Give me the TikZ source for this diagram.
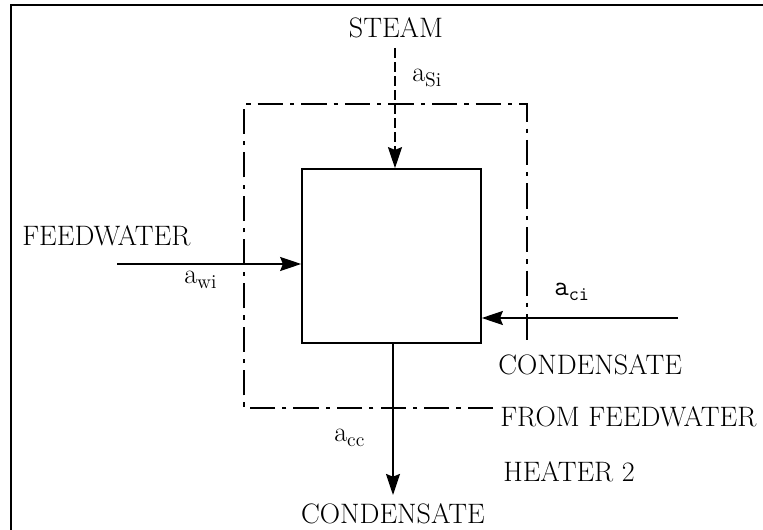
\documentclass[tikz,border=0pt]{standalone}
\usepackage{amsmath,amssymb}
\usepackage{fontspec}
\usepackage{tikz}
\usetikzlibrary{arrows.meta,positioning,calc}
\usepackage{xcolor}

\begin{document}
\begin{tikzpicture}[x=0.025cm,y=-0.025cm,
    flow/.style={line width=1.1pt,-{Stealth[length=15pt,width=10pt,inset=2pt]}},
    cv/.style={line width=1.1pt,dash pattern=on 18pt off 5pt on 3pt off 5pt},
    lbl/.style={font=\fontsize{20}{24}\selectfont,inner sep=0pt}]
  \useasboundingbox (0,0) rectangle (763,530);

  % 枠
  \draw[line width=2pt] (11,530) -- (11,5) -- (763,5);

  % 加熱器
  \node[draw,line width=1.1pt,minimum width=4.475cm,minimum height=4.35cm,inner sep=0pt] (heater) at (391.5,256) {};

  % 検査体積
  \coordinate (cvend) at (493,408);
  \draw[cv] (cvend) -- (244,408) -- (244,104) -- (527,104) -- (527,340);

  % 蒸気
  \coordinate (steamin) at (395,48);
  \draw[flow,dash pattern=on 7pt off 3pt] (steamin) -- (steamin |- heater.north);
  \node[lbl] (steam) at (396,28) {STEAM};
  \node[lbl,anchor=west] (asi) at (412,78) {a$_{\mathrm{Si}}$};

  % 給水
  \coordinate (fwin) at (117,264);
  \draw[flow] (fwin) -- (fwin -| heater.west);
  \node[lbl,anchor=west] (feed) at (22,236) {FEEDWATER};
  \node[lbl,anchor=west] (awi) at (184,280) {a$_{\mathrm{wi}}$};

  % ドレン (入口)
  \coordinate (ciin) at (678,318);
  \draw[flow] (ciin) -- (ciin -| heater.east);
  \node[lbl,anchor=west] (aci) at (554,292) {\texttt{a}$_{\texttt{ci}}$};
  \node[lbl,anchor=west] (cond1) at (498,365) {CONDENSATE};
  \node[lbl,anchor=west] (from) at (500,417) {FROM FEEDWATER};
  \node[lbl,anchor=west] (htr) at (503,472) {HEATER 2};

  % ドレン (出口)
  \coordinate (ccout) at (393,495);
  \draw[flow] (ccout |- heater.south) -- (ccout);
  \node[lbl] (cond2) at (393,514) {CONDENSATE};
  \node[lbl,anchor=west] (acc) at (334,438) {a$_{\mathrm{cc}}$};
\end{tikzpicture}
\end{document}
